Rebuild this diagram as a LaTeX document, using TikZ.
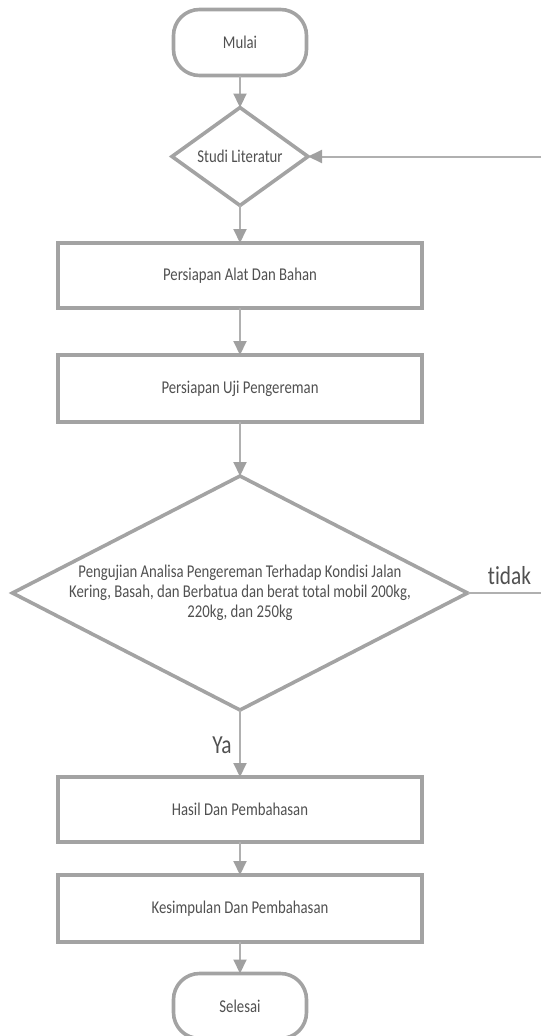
\documentclass[tikz,border=0pt]{standalone}
\usepackage{fontspec}
\setmainfont{Carlito}[FakeStretch=0.82, Ligatures=NoCommon]
\usetikzlibrary{shapes.geometric,arrows.meta}
\definecolor{shapegray}{HTML}{A3A3A3}
\definecolor{linegray}{HTML}{B0B0B0}
\definecolor{tipgray}{HTML}{A0A0A0}
\definecolor{txtgray}{HTML}{505050}
\tikzset{
  every node/.style={text=txtgray, font=\fontsize{18}{20}\selectfont},
  shp/.style={draw=shapegray, line width=3.6pt, outer sep=0pt, inner sep=0pt},
  term/.style={shp, rectangle, rounded corners=26pt, minimum width=133pt, minimum height=66pt},
  procbox/.style={shp, rectangle, minimum width=364pt},
  decide/.style={shp, diamond},
  conn/.style={draw=linegray, line width=2pt, -{Triangle[length=14pt,width=13pt,color=tipgray]}},
  plainline/.style={draw=linegray, line width=2pt},
  biglabel/.style={font=\fontsize{26}{30}\selectfont}
}
\begin{document}
\begin{tikzpicture}[x=1pt,y=-1pt]
\useasboundingbox (0,0) rectangle (541,1036);
\node[term] (mulai) at (240,42.5) {Mulai};
\node[decide, minimum width=136pt, minimum height=97pt] (studi) at (240,156.5) {Studi Literatur};
\node[procbox, minimum height=65pt] (alat) at (240,275.5) {Persiapan Alat Dan Bahan};
\node[procbox, minimum height=67pt] (uji) at (240,388.5) {Persiapan Uji Pengereman};
\node[decide, minimum width=455pt, minimum height=234pt] (analisa) at (240,593) {};
\node[align=center] (analisatext) at (240,593) {Pengujian Analisa Pengereman Terhadap Kondisi Jalan\\Kering, Basah, dan Berbatua dan berat total mobil 200kg,\\220kg, dan 250kg};
\node[procbox, minimum height=65pt] (hasil) at (240,809.5) {Hasil Dan Pembahasan};
\node[procbox, minimum height=67pt] (kesimpulan) at (240,908.5) {Kesimpulan Dan Pembahasan};
\node[term, minimum height=65pt] (selesai) at (240,1006) {Selesai};
\coordinate (fbR) at (541,156.5);
\coordinate (noR) at (541,593);
\draw[conn] (mulai) -- (studi);
\draw[conn] (fbR) -- (studi.east);
\draw[conn] (studi) -- (alat);
\draw[conn] (alat) -- (uji);
\draw[conn] (uji) -- (analisa.north);
\draw[conn] (analisa.south) -- (hasil);
\draw[conn] (hasil) -- (kesimpulan);
\draw[conn] (kesimpulan) -- (selesai);
\draw[plainline] (analisa.east) -- (noR);
\node[biglabel] (tidak) at (509.5,576) {tidak};
\node[biglabel] (ya) at (222,745) {Ya};
\end{tikzpicture}
\end{document}
